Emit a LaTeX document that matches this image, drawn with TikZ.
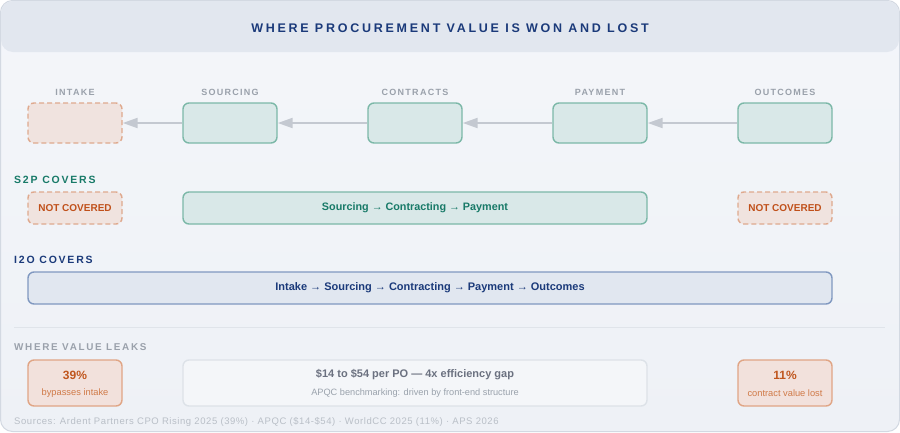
\documentclass[tikz,border=0pt]{standalone}
\usepackage{fontspec}
\setmainfont{Liberation Sans}
\newfontfamily\titlefont[LetterSpace=22]{Liberation Sans}
\newfontfamily\capsfont[LetterSpace=14]{Liberation Sans}
\newfontfamily\headfont[LetterSpace=17]{Liberation Sans}
\newfontfamily\notefont[LetterSpace=6]{Liberation Sans}
\usetikzlibrary{arrows.meta,positioning}

\definecolor{bgtop}{HTML}{F4F6FA}
\definecolor{bgbot}{HTML}{EEF1F6}
\definecolor{frame}{HTML}{D3D9E2}
\definecolor{headfill}{HTML}{E2E7EF}
\definecolor{navy}{HTML}{1B3A7A}
\definecolor{lblgray}{HTML}{9AA1AB}
\definecolor{tealline}{HTML}{7CB8A8}
\definecolor{tealfill}{HTML}{D9E8E8}
\definecolor{tealtxt}{HTML}{187A68}
\definecolor{gapline}{HTML}{DFA98E}
\definecolor{gapfill}{HTML}{F0E3DF}
\definecolor{gaptxt}{HTML}{C0501A}
\definecolor{flowgray}{HTML}{C4C9D1}
\definecolor{i2oline}{HTML}{8098C0}
\definecolor{i2ofill}{HTML}{E1E7F0}
\definecolor{sepgray}{HTML}{E0E4EA}
\definecolor{leakline}{HTML}{E0A585}
\definecolor{leakfill}{HTML}{F2E1DC}
\definecolor{pcttxt}{HTML}{C0561E}
\definecolor{pctsub}{HTML}{D07A48}
\definecolor{midline}{HTML}{DDE2E8}
\definecolor{midfill}{HTML}{F4F6F9}
\definecolor{midtxt}{HTML}{6B7180}
\definecolor{midsub}{HTML}{9AA2AC}
\definecolor{notegray}{HTML}{B9BFC7}

\tikzset{
  stage/.style={draw=tealline, fill=tealfill, line width=1.4pt, rounded corners=6pt,
    minimum width=94pt, minimum height=40pt, inner sep=0pt},
  gapbox/.style={draw=gapline, fill=gapfill, line width=1.4pt, dash pattern=on 5pt off 3pt,
    rounded corners=6pt, minimum width=94pt, minimum height=32pt, inner sep=0pt,
    text=gaptxt, font=\bfseries\fontsize{10}{12}\selectfont},
  stagelbl/.style={font=\capsfont\bfseries\fontsize{9}{10}\selectfont, text=lblgray,
    inner sep=0pt},
  sectlbl/.style={font=\headfont\bfseries\fontsize{10.5}{12}\selectfont, inner sep=0pt,
    anchor=west},
  flow/.style={draw=flowgray, line width=2pt, -{Triangle[length=15pt,width=10pt]}},
  i2obox/.style={draw=i2oline, fill=i2ofill, line width=1.4pt, rounded corners=6pt,
    minimum width=804pt, minimum height=32pt, text=navy,
    font=\bfseries\fontsize{11}{13}\selectfont},
  leak/.style={draw=leakline, fill=leakfill, line width=1.4pt, rounded corners=6pt,
    minimum width=94pt, minimum height=46pt, inner sep=0pt},
  leakmid/.style={draw=midline, fill=midfill, line width=1.4pt, rounded corners=6pt,
    minimum width=464pt, minimum height=46pt, inner sep=0pt},
  pct/.style={font=\bfseries\fontsize{12}{14}\selectfont, text=pcttxt, inner sep=0pt},
  pctnote/.style={font=\fontsize{9.3}{11}\selectfont, text=pctsub, inner sep=0pt},
}

\begin{document}
\begin{tikzpicture}[x=1pt,y=-1pt]
  \useasboundingbox (0,0) rectangle (900,432);
  \path[draw=frame, line width=1pt, top color=bgtop, bottom color=bgbot, rounded corners=12pt]
    (0.5,0.5) rectangle (899.5,431.5);
  \fill[headfill, rounded corners=12pt] (1,1) rectangle (899,52);
  \node[font=\titlefont\bfseries\fontsize{12.5}{14}\selectfont, text=navy] (title) at (450,28)
    {WHERE PROCUREMENT VALUE IS WON AND LOST};

  \node[gapbox, minimum height=40pt, label={[stagelbl, label distance=7pt]above:INTAKE}]
    (int) at (75,123) {};
  \foreach \name/\x/\txt in {src/230/SOURCING, con/415/CONTRACTS, pay/600/PAYMENT, out/785/OUTCOMES}
    \node[stage, label={[stagelbl, label distance=7pt]above:\txt}] (\name) at (\x,123) {};
  \foreach \a/\b in {src/int, con/src, pay/con, out/pay}
    \draw[flow] (\a) -- (\b);

  \node[sectlbl, text=tealtxt] (s2p) at (14,180) {S2P COVERS};
  \node[gapbox] (s2pin) at (75,208) {NOT COVERED};
  \node[stage, minimum width=464pt, minimum height=32pt, text=tealtxt,
    font=\bfseries\fontsize{10.8}{12}\selectfont] (s2pmid) at (415,208)
    {Sourcing → Contracting → Payment};
  \node[gapbox] (s2pout) at (785,208) {NOT COVERED};

  \node[sectlbl, text=navy] (i2o) at (14,260) {I2O COVERS};
  \node[i2obox] (i2omid) at (430,288)
    {Intake → Sourcing → Contracting → Payment → Outcomes};

  \draw[sepgray, line width=1pt] (14,327) -- (885,327);

  \node[sectlbl, text=lblgray, font=\headfont\bfseries\fontsize{9.9}{11}\selectfont]
    (leaks) at (14,347) {WHERE VALUE LEAKS};
  \node[leak] (lk1) at (75,383) {};
  \node[pct] at ([yshift=8pt]lk1.center) {39\%};
  \node[pctnote] at ([yshift=-10.5pt]lk1.center) {bypasses intake};
  \node[leakmid] (lk2) at (415,383) {};
  \node[pct, text=midtxt, font=\bfseries\fontsize{11}{13}\selectfont] at ([yshift=8pt]lk2.center)
    {\$14 to \$54 per PO — 4x efficiency gap};
  \node[pctnote, text=midsub, font=\fontsize{9.2}{11}\selectfont] at ([yshift=-10.5pt]lk2.center)
    {APQC benchmarking: driven by front-end structure};
  \node[leak] (lk3) at (785,383) {};
  \node[pct] at ([yshift=8pt]lk3.center) {11\%};
  \node[pctnote] at ([yshift=-10.5pt]lk3.center) {contract value lost};

  \node[anchor=west, inner sep=0pt, text=notegray, font=\notefont\fontsize{9.5}{11}\selectfont]
    (sources) at (14,422)
    {Sources: Ardent Partners CPO Rising 2025 (39\%) · APQC (\$14-\$54) · WorldCC 2025 (11\%) · APS 2026};
\end{tikzpicture}
\end{document}
